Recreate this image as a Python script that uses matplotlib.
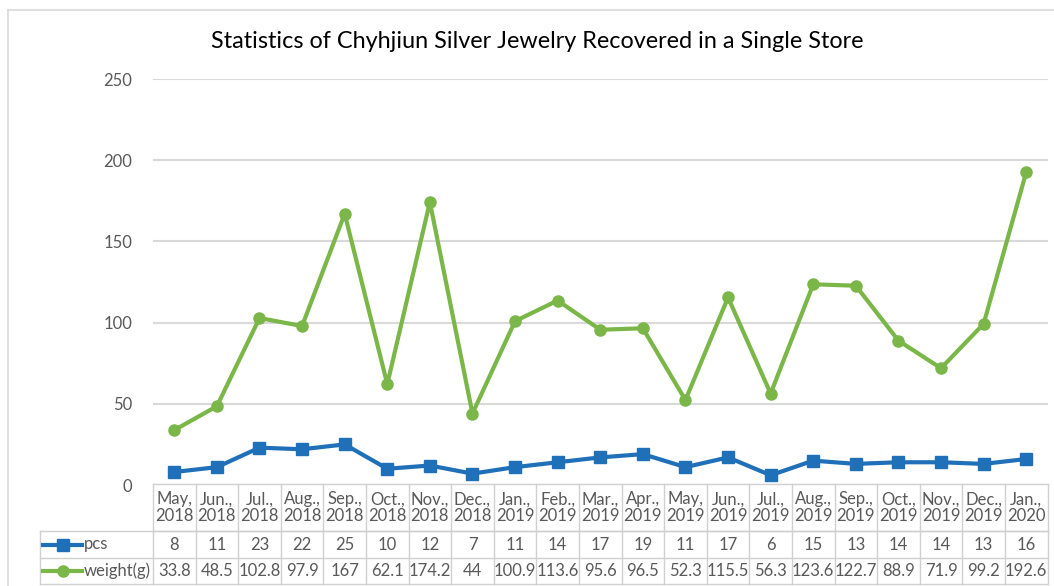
import numpy as np
import matplotlib.pyplot as plt
from matplotlib.lines import Line2D

months = ['May,\n2018', 'Jun.,\n2018', 'Jul.,\n2018', 'Aug.,\n2018', 'Sep.,\n2018', 'Oct.,\n2018',
          'Nov.,\n2018', 'Dec.,\n2018', 'Jan.,\n2019', 'Feb.,\n2019', 'Mar.,\n2019', 'Apr.,\n2019',
          'May,\n2019', 'Jun.,\n2019', 'Jul.,\n2019', 'Aug.,\n2019', 'Sep.,\n2019', 'Oct.,\n2019',
          'Nov.,\n2019', 'Dec.,\n2019', 'Jan.,\n2020']
pcs = [8, 11, 23, 22, 25, 10, 12, 7, 11, 14, 17, 19, 11, 17, 6, 15, 13, 14, 14, 13, 16]
weight = [33.8, 48.5, 102.8, 97.9, 167, 62.1, 174.2, 44, 100.9, 113.6, 95.6, 96.5, 52.3, 115.5,
          56.3, 123.6, 122.7, 88.9, 71.9, 99.2, 192.6]
weight_txt = ['33.8', '48.5', '102.8', '97.9', '167', '62.1', '174.2', '44', '100.9', '113.6', '95.6',
              '96.5', '52.3', '115.5', '56.3', '123.6', '122.7', '88.9', '71.9', '99.2', '192.6']

blue = '#1f70b8'
green = '#7ab648'
grey_txt = '#595959'
grid_c = '#d9d9d9'

plt.rcParams['font.family'] = ['Lato', 'DejaVu Sans']

W, H = 1054, 586
fig = plt.figure(figsize=(W / 100, H / 100), dpi=100)

# outer chart border
fig.add_artist(Line2D([8 / W, 8 / W], [0, 1 - 10 / H], color=grid_c, lw=1.2))
fig.add_artist(Line2D([8 / W, 1], [1 - 10 / H, 1 - 10 / H], color=grid_c, lw=1.2))

x = np.arange(len(months))
left, right = 153 / W, 1047.5 / W
ax = fig.add_axes([left, (H - 485) / H, right - left, (485 - 79) / H])
ax.plot(x, pcs, color=blue, lw=3, marker='s', ms=9, zorder=3)
ax.plot(x, weight, color=green, lw=3, marker='o', ms=8, zorder=3)
ax.set_xlim(-0.5, len(months) - 0.5)
ax.set_ylim(0, 250)
ax.set_yticks(range(0, 251, 50))
ax.yaxis.grid(True, color=grid_c, lw=1.5)
ax.set_axisbelow(True)
for s in ax.spines.values():
    s.set_visible(False)
ax.set_xticks([])
ax.tick_params(axis='y', length=0, pad=15, labelsize=12, labelcolor=grey_txt)
fig.text(537 / W, 1 - 42 / H, 'Statistics of Chyhjiun Silver Jewelry Recovered in a Single Store',
         ha='center', va='center', fontsize=16.8, color='black')

# data table under the plot
tab = fig.add_axes([left, (H - 584) / H, right - left, 100 / H])
tab.set_xlim(-0.5, len(months) - 0.5)
tab.set_ylim(0, 100)
tab.axis('off')
lc = dict(color='#d0d0d0', lw=1, clip_on=False)
xl = -0.5 - (153 - 40) / 42.6
for yy in [100, 53]:
    tab.plot([-0.5, len(months) - 0.5], [yy, yy], **lc)
for yy in [53, 26, 0]:
    tab.plot([xl, len(months) - 0.5], [yy, yy], **lc)
for i in range(len(months) + 1):
    tab.plot([i - 0.5, i - 0.5], [0, 100], **lc)
tab.plot([xl, xl], [0, 53], **lc)

fs = 12
for i in range(len(months)):
    tab.text(i, 76.5, months[i], ha='center', va='center', fontsize=fs, color=grey_txt, linespacing=1.05)
    tab.text(i, 39.5, str(pcs[i]), ha='center', va='center', fontsize=fs, color=grey_txt)
    tab.text(i, 13, weight_txt[i], ha='center', va='center', fontsize=fs, color=grey_txt)

for yy, c, m, ms, lab in [(39.5, blue, 's', 9, 'pcs'), (13, green, 'o', 8, 'weight(g)')]:
    x0 = -0.5 - (153 - 43) / 42.6
    x1 = -0.5 - (153 - 82) / 42.6
    tab.plot([x0, x1], [yy, yy], color=c, lw=3, clip_on=False)
    tab.plot([(x0 + x1) / 2], [yy], color=c, marker=m, ms=ms, clip_on=False)
    tab.text(-0.5 - (153 - 84) / 42.6, yy, lab, ha='left', va='center', fontsize=fs, color=grey_txt)

fig.savefig('out.png', dpi=100)
